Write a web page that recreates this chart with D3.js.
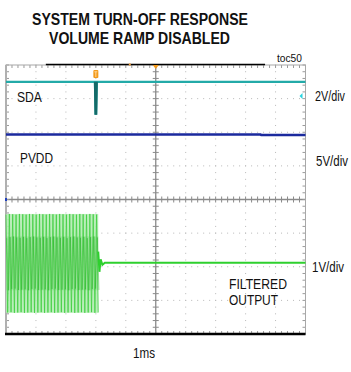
<!DOCTYPE html>
<html><head><meta charset="utf-8">
<script src="https://cdn.jsdelivr.net/npm/d3@7"></script>
<style>
html,body{margin:0;padding:0;background:#fff;}
svg{display:block;}
text{font-family:"Liberation Sans",Arial,sans-serif;}
</style></head>
<body>
<script>
// ---- data ----
const titleLines = ["SYSTEM TURN-OFF RESPONSE", "VOLUME RAMP DISABLED"];
const timeDivs = 10, voltDivs = 8;           // screen divisions
const msPerDiv = 1;
const xLabel = "1ms";
const scaleLabels = ["2V/div", "5V/div", "1V/div"];
const channelNames = ["SDA", "PVDD", "FILTERED", "OUTPUT"];
// SDA (V) vs time (ms)
const sdaT = [0, 2.97, 2.99, 3.01, 3.03, 10];
const sdaV = [3.3, 3.3, 1.4, 1.4, 3.3, 3.3];
const sdaOffsetDiv = 1.85, sdaVoltsPerDiv = 2;
// PVDD (V) vs time (ms)
const pvddT = [0, 8.5, 8.52, 10];
const pvddV = [12.0, 12.0, 11.95, 11.95];
const pvddOffsetDiv = -0.47, pvddVoltsPerDiv = 5;
// Filtered output: burst peaks (V), evenly over burstStart..burstEnd, then decay
const burstStart = 0, burstEnd = 3.08;
const burstPeaks = [1.45,-1.46,1.47,-1.45,1.46,-1.47,1.45,-1.46,1.47,-1.45,
                    1.46,-1.47,1.45,-1.46,1.47,-1.45,1.46,-1.47,1.45,-1.46,
                    1.47,-1.45,1.46,-1.47,1.45,-1.46,1.47,-1.45,1.46,-1.47,
                    1.45,-1.46,1.47,-1.45,1.46,-1.47,1.45,-1.46,1.47,-1.45,
                    1.46,-1.47,1.45,-1.46,1.47,-1.45,1.46,-1.47,1.45,-1.46,
                    1.47,-1.45,1.46,-1.47,1.45,-1.46];
const innerPeaks = [0.75,-0.8,0.78,-0.76,0.8,-0.75,0.77,-0.79,0.76,-0.78,
                    0.79,-0.77,0.75,-0.8,0.78,-0.76,0.8,-0.75,0.77,-0.79,
                    0.76,-0.78,0.79,-0.77,0.75,-0.8,0.78,-0.76,0.8,-0.75,
                    0.77,-0.79,0.76,-0.78,0.79,-0.77,0.75,-0.8,0.78,-0.76,
                    0.8,-0.75,0.77,-0.79,0.76,-0.78,0.79,-0.77,0.75,-0.8,
                    0.78,-0.76,0.8,-0.75,0.77,-0.79];
const tailT = [3.08, 3.12, 3.16, 3.22, 3.3, 10];
const tailV = [0.35, -0.25, 0.12, -0.04, 0.02, 0.02];
const outOffsetDiv = -1.9, outVoltsPerDiv = 1;

// ---- layout ----
const W = 351, H = 372;
const L = 6, R = 305.5, T = 65, B = 334;
const svg = d3.select("body").append("svg").attr("width", W).attr("height", H);
const x = d3.scaleLinear().domain([0, timeDivs * msPerDiv]).range([L, R]);
const yDiv = d3.scaleLinear().domain([-voltDivs / 2, voltDivs / 2]).range([B, T]);

// narrow text: horizontally scaled to the width measured on the reference
function txt(sel, s, xx, yy, w, size, bold) {
  const gg = sel.append("g");
  const t = gg.append("text").attr("x", 0).attr("y", 0).attr("font-size", size)
    .attr("font-weight", bold ? "bold" : "normal").text(s);
  const nat = t.node().getComputedTextLength();
  gg.attr("transform", `translate(${xx},${yy}) scale(${w / nat},1)`);
  return t;
}

// title
const tg = svg.append("g").attr("fill", "#111");
txt(tg, titleLines[0], 32, 25, 216, 17, true);
txt(tg, titleLines[1], 49, 43.5, 181, 17, true);
txt(tg, "toc50", 277, 62, 25, 10, false);

// dotted grid
const g = svg.append("g");
const xMinor = d3.range(0, timeDivs * 5 + 1).map(i => i / 5);
const yMinor = d3.range(-voltDivs * 5 / 2, voltDivs * 5 / 2 + 1).map(i => i / 5);
d3.range(1, timeDivs).filter(d => d !== timeDivs / 2).forEach(d => {
  g.selectAll(null).data(yMinor).join("rect")
    .attr("x", x(d) - 0.5).attr("y", v => yDiv(v) - 0.5).attr("width", 1).attr("height", 1).attr("fill", "#b8b8b8");
});
d3.range(-voltDivs / 2 + 1, voltDivs / 2).filter(d => d !== 0).forEach(d => {
  g.selectAll(null).data(xMinor).join("rect")
    .attr("x", v => x(v) - 0.5).attr("y", yDiv(d) - 0.5).attr("width", 1).attr("height", 1).attr("fill", "#b8b8b8");
});
// center cross with ticks
g.append("line").attr("x1", x(5)).attr("x2", x(5)).attr("y1", T).attr("y2", B).attr("stroke", "#8a8a8a").attr("stroke-width", 1.3);
g.append("line").attr("x1", L).attr("x2", R).attr("y1", yDiv(0)).attr("y2", yDiv(0)).attr("stroke", "#8a8a8a").attr("stroke-width", 1.3);
g.selectAll(null).data(xMinor).join("line")
  .attr("x1", d => x(d)).attr("x2", d => x(d)).attr("y1", yDiv(0) - 3).attr("y2", yDiv(0) + 3).attr("stroke", "#8a8a8a");
g.selectAll(null).data(yMinor).join("line")
  .attr("y1", d => yDiv(d)).attr("y2", d => yDiv(d)).attr("x1", x(5) - 3).attr("x2", x(5) + 3).attr("stroke", "#8a8a8a");
// edge ticks
g.selectAll(null).data(xMinor).join("line")
  .attr("x1", d => x(d)).attr("x2", d => x(d)).attr("y1", T).attr("y2", T + 3).attr("stroke", "#9a9a9a");
g.selectAll(null).data(xMinor).join("line")
  .attr("x1", d => x(d)).attr("x2", d => x(d)).attr("y1", B - 3).attr("y2", B).attr("stroke", "#9a9a9a");
g.selectAll(null).data(yMinor).join("line")
  .attr("y1", d => yDiv(d)).attr("y2", d => yDiv(d)).attr("x1", L).attr("x2", L + 3).attr("stroke", "#9a9a9a");
g.selectAll(null).data(yMinor).join("line")
  .attr("y1", d => yDiv(d)).attr("y2", d => yDiv(d)).attr("x1", R - 3).attr("x2", R).attr("stroke", "#9a9a9a");
// frame
g.append("rect").attr("x", L).attr("y", T).attr("width", R - L).attr("height", B - T)
  .attr("fill", "none").attr("stroke", "#a8a8a8").attr("stroke-width", 1);
g.append("line").attr("x1", L).attr("x2", L).attr("y1", T).attr("y2", B).attr("stroke", "#b0b0b0").attr("stroke-width", 2);
g.append("line").attr("x1", x(1.33)).attr("x2", x(8.65)).attr("y1", T - 0.5).attr("y2", T - 0.5).attr("stroke", "#000").attr("stroke-width", 1.5);
g.append("line").attr("x1", L - 1).attr("x2", R).attr("y1", B).attr("y2", B).attr("stroke", "#000").attr("stroke-width", 2.5);

// channels
const line = d3.line().x(d => x(d[0])).y(d => d[1]);
// PVDD
const pv = pvddT.map((t, i) => [t, yDiv(pvddOffsetDiv + pvddV[i] / pvddVoltsPerDiv)]);
svg.append("path").attr("d", line(pv)).attr("fill", "none").attr("stroke", "#1b2a9e").attr("stroke-width", 2.5);
// SDA
const sd = sdaT.map((t, i) => [t, yDiv(sdaOffsetDiv + sdaV[i] / sdaVoltsPerDiv)]);
svg.append("path").attr("d", line(sd)).attr("fill", "none").attr("stroke", "#23aaa8").attr("stroke-width", 2.2);
svg.append("path").attr("d", line(sd.slice(1, 5))).attr("fill", "none").attr("stroke", "#146a68").attr("stroke-width", 2.2);

// filtered output
const outY = v => yDiv(outOffsetDiv + v / outVoltsPerDiv);
const nP = burstPeaks.length;
const pt = i => burstStart + (burstEnd - burstStart) * i / (nP - 1);
const maxV = d3.max(burstPeaks), minV = d3.min(burstPeaks);
svg.append("rect").attr("x", x(burstStart)).attr("y", outY(maxV)).attr("width", x(burstEnd) - x(burstStart))
  .attr("height", outY(minV) - outY(maxV)).attr("fill", "#b3ecb3").attr("opacity", 0.9);
svg.append("rect").attr("x", x(burstStart)).attr("y", outY(0.8)).attr("width", x(burstEnd) - x(burstStart))
  .attr("height", outY(-0.8) - outY(0.8)).attr("fill", "#8fdc8f").attr("opacity", 0.55);
const outer = burstPeaks.map((v, i) => [pt(i), outY(v)]);
const inner = innerPeaks.map((v, i) => [pt(i) + 0.025, outY(v)]);
svg.append("path").attr("d", line(outer)).attr("fill", "none").attr("stroke", "#3fcf3f").attr("stroke-width", 0.9).attr("opacity", 0.85);
svg.append("path").attr("d", line(inner)).attr("fill", "none").attr("stroke", "#1fa81f").attr("stroke-width", 0.7).attr("opacity", 0.5);
const tail = tailT.map((t, i) => [t, outY(tailV[i])]);
svg.append("path").attr("d", line(tail)).attr("fill", "none").attr("stroke", "#2ed02e").attr("stroke-width", 2);

// markers
const tx = x(3.0);
svg.append("rect").attr("x", tx - 2.5).attr("y", 70).attr("width", 5).attr("height", 8).attr("rx", 1).attr("fill", "#f39a1c");
svg.append("path").attr("d", `M${tx - 1.5},71.8H${tx + 1.5}M${tx},71.8V77`).attr("stroke", "#ffe0a8").attr("stroke-width", 0.9);
svg.append("path").attr("d", `M${x(5) - 3},${T}L${x(5) + 3},${T}L${x(5)},${T + 4}Z`).attr("fill", "#f39a1c");
svg.append("rect").attr("x", x(4.1)).attr("y", T - 1.5).attr("width", 2).attr("height", 2).attr("fill", "#f3a040");
svg.append("path").attr("d", `M${R - 6},96L${R - 3},93V99Z`).attr("fill", "#2bd4e0");
svg.append("rect").attr("x", L - 1).attr("y", yDiv(0) - 1.5).attr("width", 2).attr("height", 3).attr("fill", "#2040c0");

// labels
const lab = svg.append("g").attr("fill", "#111");
txt(lab, channelNames[0], 17, 102, 25, 14, false);
txt(lab, channelNames[1], 20, 163, 33, 14, false);
txt(lab, channelNames[2], 229, 289, 58, 14, false);
txt(lab, channelNames[3], 229, 305, 49, 14, false);
txt(lab, scaleLabels[0], 315, 101, 30, 14, false);
txt(lab, scaleLabels[1], 316, 166, 32, 14, false);
txt(lab, scaleLabels[2], 312, 272, 32, 14, false);
txt(lab, xLabel, 133, 358, 22, 14, false);
</script>
</body></html>
